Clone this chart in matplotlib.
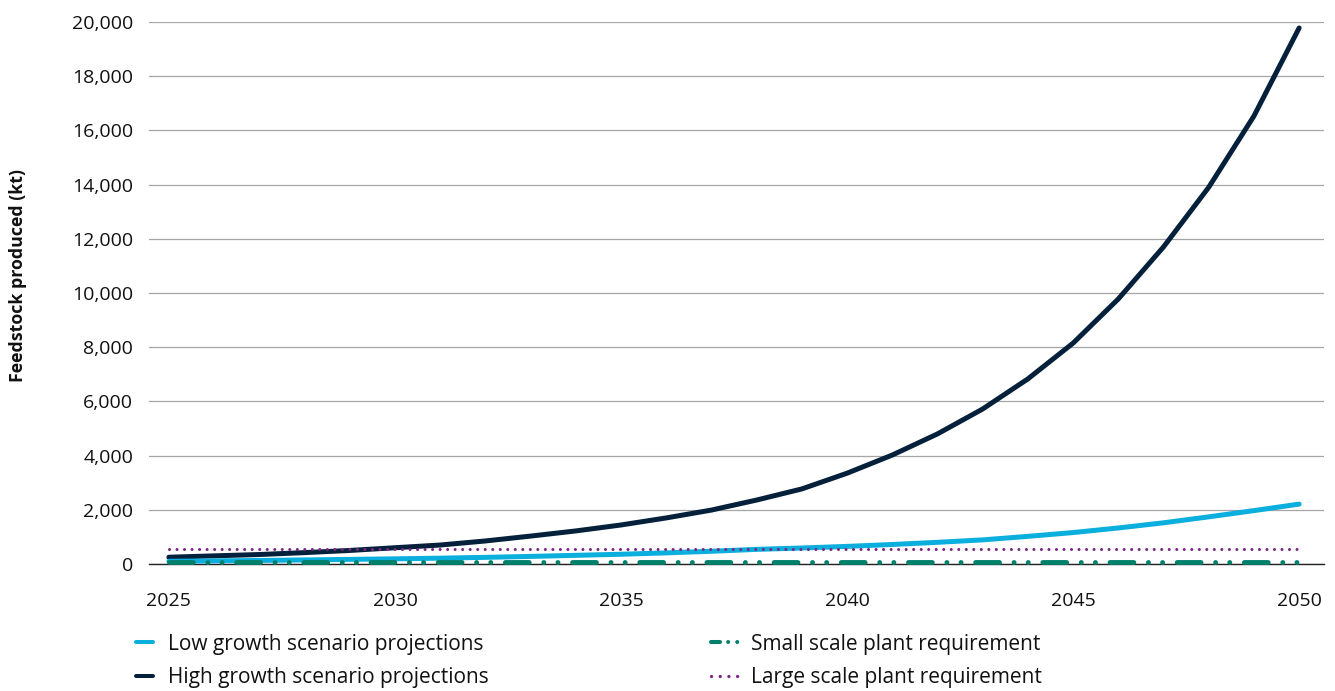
import matplotlib
matplotlib.use("Agg")
import matplotlib.pyplot as plt
from matplotlib.lines import Line2D
from matplotlib.ticker import FuncFormatter

years = list(range(2025, 2051))
high_growth = [250, 300, 350, 420, 500, 600, 700, 850, 1030, 1220, 1440, 1700, 1990, 2360, 2770,
               3350, 4020, 4800, 5720, 6830, 8150, 9780, 11700, 13900, 16530, 19780]
low_growth = [100, 115, 130, 150, 170, 190, 215, 245, 280, 320, 360, 410, 470, 540, 590,
              650, 720, 800, 890, 1020, 1160, 1330, 1520, 1740, 1970, 2210]
small_scale = [80] * len(years)
large_scale = [550] * len(years)
labels = ["Low growth scenario projections", "High growth scenario projections",
          "Small scale plant requirement", "Large scale plant requirement"]
x_ticks = [2025, 2030, 2035, 2040, 2045, 2050]
y_ticks = list(range(0, 20001, 2000))

plt.rcParams['font.family'] = ['Open Sans', 'DejaVu Sans']

W, H = 1335, 691
fig = plt.figure(figsize=(W / 100, H / 100), dpi=100)
ax = fig.add_axes([149 / W, 1 - 564 / H, (1324 - 149) / W, (564 - 22) / H])

c_dark = "#04203A"
c_blue = "#0AAFDD"
c_green = "#00806B"
c_purple = "#7A2784"
small_style = (0, (4.9, 3.0, 0.01, 2.9, 0.01, 3.0))
large_style = (0, (0.01, 2.45))

l_high, = ax.plot(years, high_growth, color=c_dark, lw=3.6, solid_capstyle='round',
                  clip_on=False, zorder=3)
l_low, = ax.plot(years, low_growth, color=c_blue, lw=3.6, solid_capstyle='round',
                 clip_on=False, zorder=4)
l_small, = ax.plot(years, small_scale, color=c_green, lw=3.5, dash_capstyle='round',
                   linestyle=small_style, clip_on=False, zorder=5)
l_large, = ax.plot(years, large_scale, color=c_purple, lw=2.2, dash_capstyle='round',
                   linestyle=large_style, clip_on=False, zorder=6)

ax.set_xlim(2024.56, 2050.55)
ax.set_ylim(0, 20000)
ax.set_xticks(x_ticks)
ax.set_yticks(y_ticks)
ax.yaxis.set_major_formatter(FuncFormatter(lambda v, p: f"{int(v):,}"))
ax.tick_params(axis='both', length=0, labelsize=14, colors='#111111')
ax.tick_params(axis='y', pad=11.5)
ax.tick_params(axis='x', pad=20)
ax.grid(axis='y', color='#A6A6A6', lw=0.9)
ax.set_axisbelow(True)
for s in ['left', 'right', 'top']:
    ax.spines[s].set_visible(False)
ax.spines['bottom'].set_color('#222222')
ax.spines['bottom'].set_linewidth(1.0)

fig.text(18 / W, 1 - 276 / H, "Feedstock produced (kt)", rotation=90, ha='center', va='center',
         fontsize=12.8, fontweight='bold', color='#111111')

# legend: two columns built as two legends
h_low = Line2D([], [], color=c_blue, lw=2.9, solid_capstyle='round')
h_high = Line2D([], [], color=c_dark, lw=2.9, solid_capstyle='round')
h_small = Line2D([], [], color=c_green, lw=2.9, dash_capstyle='round',
                 linestyle=(0, (2.25, 2.0, 0.01, 2.25, 0.01, 6)))
h_large = Line2D([], [], color=c_purple, lw=2.4, dash_capstyle='round',
                 linestyle=(0, (0.01, 2.6)))

common = dict(loc='center left', frameon=False, fontsize=15, borderpad=0,
              labelspacing=0.6, borderaxespad=0)
leg1 = fig.legend([h_low, h_high], labels[:2], bbox_to_anchor=(136 / W, 1 - 661 / H),
                  handlelength=0.82, handletextpad=0.7, **common)
leg2 = fig.legend([h_small, h_large], labels[2:], bbox_to_anchor=(711 / W, 1 - 661 / H),
                  handlelength=1.32, handletextpad=0.62, **common)
for lg in (leg1, leg2):
    for t in lg.get_texts():
        t.set_color('#111111')

fig.savefig("out.png", dpi=100)
